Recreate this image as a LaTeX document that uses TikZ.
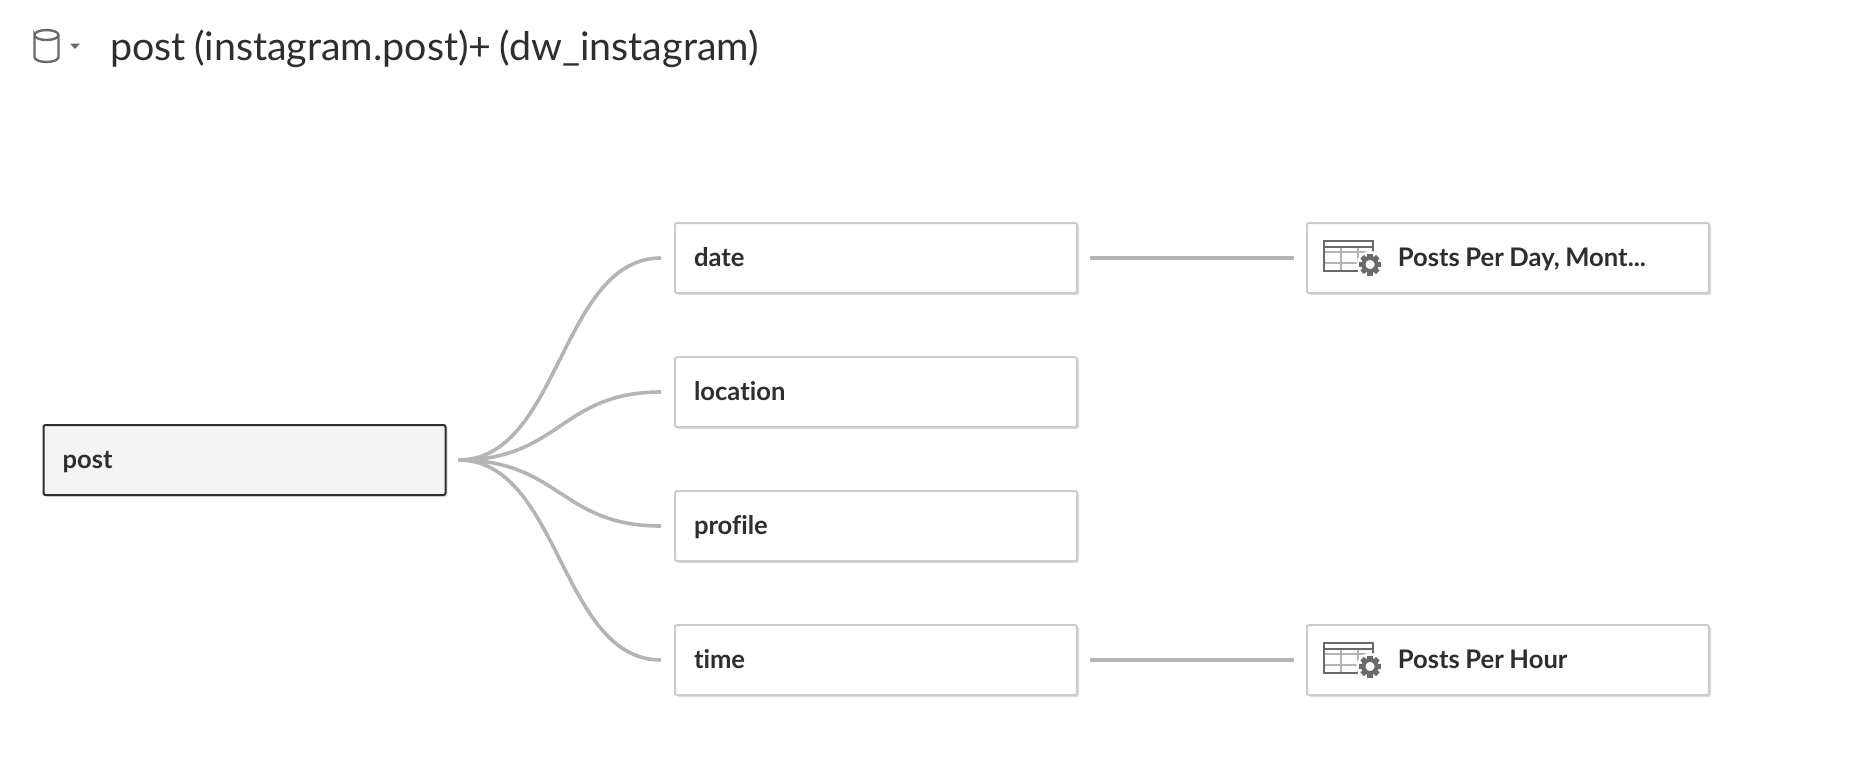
\documentclass[tikz,border=0pt]{standalone}
\usepackage{fontspec}
\setmainfont{Lato}[Ligatures=NoCommon,WordSpace=0.8]
\usetikzlibrary{shadows,calc}
\definecolor{ink}{HTML}{2E2E2E}
\definecolor{edgeg}{HTML}{B4B4B4}
\definecolor{iconG}{HTML}{6A6A6A}
\tikzset{
  tablebox/.style={draw=black!20,line width=1pt,fill=white,rounded corners=1pt,rectangle,
    minimum height=35pt,minimum width=201pt,text width=182pt,inner xsep=9pt,inner ysep=0pt,
    text height=10.8pt,text depth=2.2pt,
    align=left,text=ink,font=\bfseries\fontsize{12.8}{14}\selectfont,
    execute at begin node={\spaceskip=2.8pt\relax},
    drop shadow={shadow xshift=1pt,shadow yshift=-1pt,fill=black!13,opacity=1}},
  rootbox/.style={tablebox,draw=ink,fill=black!4.5},
  link/.style={draw=edgeg,line width=1.8pt},
  tableicon/.pic={
    \draw[edgeg,line width=1pt] (-29,-6) -- (20,-6) (-29,5) -- (20,5) (-12,-11) -- (-12,13) (5,-11) -- (5,13);
    \draw[iconG,line width=1pt] (20,-4) -- (20,-17) -- (-29,-17) -- (-29,13) -- (5,13);
    \draw[iconG,line width=1pt] (-29,-11) -- (20,-11);
    \fill[white] (17,6.5) circle (13.5);
    \foreach \a in {0,45,...,315}
      \fill[iconG,rotate around={\a:(17,6.5)}] (14.4,-4.5) rectangle (19.6,1);
    \draw[iconG,line width=2pt] (17,6.5) circle (6.6);
  }
}
\begin{document}
\begin{tikzpicture}[x=0.5pt,y=-0.5pt]
\useasboundingbox[fill=white] (0,0) rectangle (1854,768);
% header
\draw[iconG,line width=1.2pt] (34.5,35) arc[x radius=12,y radius=5,start angle=180,end angle=540]
  -- (34.5,57) arc[x radius=12,y radius=5,start angle=180,end angle=0] -- (58.5,35);
\fill[iconG] (70,43.5) -- (80,43.5) -- (75,49) -- cycle;
\node[anchor=base west,inner sep=0pt,text=ink,font=\fontsize{19.7}{24}\selectfont] (title) at (110,60) {post (instagram.post)+ (dw\_instagram)};
% boxes
\node[rootbox] (post) at (244.5,460) {post};
\node[tablebox] (date) at (876,258) {date};
\node[tablebox] (location) at (876,392) {location};
\node[tablebox] (profile) at (876,526) {profile};
\node[tablebox] (time) at (876,660) {time};
\node[tablebox] (day) at (1508,258) {\hspace*{35.9pt}Posts Per Day, Mont...};
\node[tablebox] (hour) at (1508,660) {\hspace*{35.9pt}Posts Per Hour};
\pic at ($(day.west)+(47,0)$) {tableicon};
\pic at ($(hour.west)+(47,0)$) {tableicon};
% connectors
\foreach \t in {date,location,profile,time}
  \draw[link,shorten <=6pt,shorten >=6.5pt] (post.east) .. controls ($(post.east)!0.5!(post.east-|\t.west)$) and ($(\t.west)!0.5!(\t.west-|post.east)$) .. (\t.west);
\draw[link,shorten <=6pt,shorten >=6pt] (date.east) -- (day.west);
\draw[link,shorten <=6pt,shorten >=6pt] (time.east) -- (hour.west);
\end{tikzpicture}
\end{document}
